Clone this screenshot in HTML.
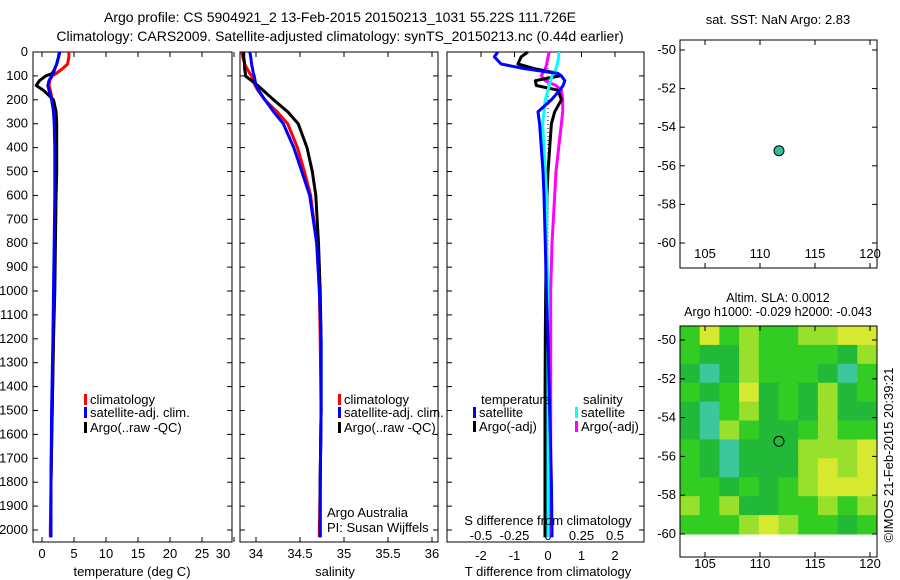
<!DOCTYPE html>
<html><head><meta charset="utf-8">
<style>
html,body{margin:0;padding:0;background:#fff;}
svg{display:block;font-family:"Liberation Sans",sans-serif;}
text{font-size:13px;fill:#000;}
</style></head>
<body>
<svg id="chart" width="900" height="580" viewBox="0 0 900 580" xmlns="http://www.w3.org/2000/svg">
<text x="340" y="22" text-anchor="middle" style="font-size:14px">Argo profile: CS 5904921_2 13-Feb-2015 20150213_1031 55.22S 111.726E</text>
<text x="340" y="41" text-anchor="middle" style="font-size:14px">Climatology: CARS2009. Satellite-adjusted climatology: synTS_20150213.nc (0.44d earlier)</text>
<g id="g"></g>
</svg>
<script>
// ---- data ----
const depths = [0,20,50,70,90,100,120,140,160,200,250,300,400,500,600,800,1000,1200,1500,1800,2000,2030];
const tempClim = [4.2,4.2,4.0,3.2,2.2,1.6,1.2,1.1,1.3,1.6,1.9,2.0,2.1,2.2,2.1,2.0,1.9,1.8,1.6,1.4,1.3,1.3];
const tempSat  = [2.8,2.6,2.3,2.0,1.8,1.5,1.1,0.9,1.1,1.5,1.8,1.9,2.0,2.0,2.0,1.9,1.8,1.7,1.5,1.4,1.4,1.4];
const tempArgo = [2.7,2.6,2.3,2.0,1.6,0.6,-0.4,-0.9,0.2,1.8,2.2,2.3,2.3,2.3,2.2,2.1,2.0,1.8,1.6,1.4,1.4,1.4];
const salClim = [33.84,33.85,33.87,33.9,33.93,33.95,33.97,33.99,34.02,34.1,34.24,34.36,34.47,34.55,34.62,34.69,34.72,34.73,34.74,34.73,34.72,34.72];
const salSat  = [33.93,33.94,33.95,33.96,33.97,33.98,33.99,34.0,34.03,34.1,34.2,34.31,34.43,34.52,34.61,34.69,34.72,34.74,34.74,34.73,34.73,34.73];
const salArgo = [33.86,33.86,33.87,33.87,33.88,33.88,33.95,34.02,34.08,34.2,34.36,34.48,34.58,34.64,34.68,34.71,34.73,34.74,34.74,34.73,34.73,34.73];
const dTsat  = [-1.5,-1.6,-1.4,-0.7,0.3,0.4,0.5,0.45,0.35,0.1,-0.3,-0.25,-0.2,-0.15,-0.12,-0.08,-0.05,0.0,0.05,0.1,0.12,0.12];
const dTargo = [-0.6,-0.8,-0.9,-0.4,0.3,0.35,-0.38,-0.35,0.3,0.4,0.2,0.1,0.05,0.0,-0.03,-0.05,-0.07,-0.08,-0.09,-0.09,-0.09,-0.09];
const dSsat  = [0.08,0.08,0.07,0.06,0.04,0.03,0.02,0.01,0.0,-0.02,-0.03,-0.04,-0.03,-0.02,-0.01,-0.01,0.0,0.0,0.0,0.0,0.0,0.0];
const dSargo = [0.01,0.0,-0.01,-0.02,-0.04,-0.05,-0.02,0.06,0.1,0.11,0.11,0.1,0.08,0.06,0.05,0.03,0.02,0.02,0.02,0.02,0.02,0.02];
const depthTicks = [0,100,200,300,400,500,600,700,800,900,1000,1100,1200,1300,1400,1500,1600,1700,1800,1900,2000];
const tempTicks = [0,5,10,15,20,25,30];
const salTicks = [34,34.5,35,35.5,36];
const salTickLabels = ["34","34.5","35","35.5","36"];
const dTTicks = [-2,-1,0,1,2];
const dSTicks = [-0.5,-0.25,0,0.25,0.5];
const dSTickLabels = ["-0.5","-0.25","0","0.25","0.5"];
const lonTicks = [105,110,115,120];
const latTicks = [-50,-52,-54,-56,-58,-60];
const argoLon = [111.726];
const argoLat = [-55.22];
// SLA map levels (0=teal .. 4=yellow), rows north->south, 10 cols west->east
const slaGrid = [
 [2,4,2,3,2,2,3,3,4,4],
 [2,1,1,3,2,2,2,2,1,3],
 [1,0,1,3,2,2,2,1,0,2],
 [2,1,2,4,1,2,1,3,1,2],
 [1,0,2,3,1,2,1,3,1,1],
 [1,0,3,2,1,1,2,3,2,2],
 [2,1,0,1,1,1,3,3,3,4],
 [2,1,0,1,1,1,3,4,3,4],
 [2,2,1,2,1,2,3,4,4,4],
 [3,2,3,1,1,2,2,3,2,3],
 [2,2,2,3,4,3,2,2,1,2]
];
const slaColors = ["#3cc89a","#22b838","#33cc22","#99e02c","#d6e830"];

// ---- helpers ----
const NS="http://www.w3.org/2000/svg";
const G=document.getElementById('g');
function el(tag,attrs,parent){const e=document.createElementNS(NS,tag);for(const k in attrs)e.setAttribute(k,attrs[k]);(parent||G).appendChild(e);return e;}
function txt(x,y,s,anchor,parent){const t=el('text',{x:x,y:y,'text-anchor':anchor||'start'},parent);t.textContent=s;return t;}
const yD = d => 52 + d*0.239;
const xT = v => 42 + v*6.4;
const xS = v => 256 + (v-34)*88;
const xdT = v => 548 + v*33.5;
const xdS = v => 548 + v*134;
const PB = 542;

function panel(x0,x1,name){
  const r=el('rect',{x:x0,y:52,width:x1-x0,height:PB-52,fill:'none',stroke:'#000','stroke-width':1});
  
  
  depthTicks.forEach(d=>{el('line',{x1:x0,x2:x0+5,y1:yD(d),y2:yD(d),stroke:'#000'});el('line',{x1:x1,x2:x1-5,y1:yD(d),y2:yD(d),stroke:'#000'});});
}
function line(xs,xf,color,w,name,dash){
  const pts=depths.map((d,i)=>xf(xs[i]).toFixed(1)+','+yD(d).toFixed(1)).join(' ');
  const p=el('polyline',{points:pts,fill:'none',stroke:color,'stroke-width':w,'stroke-linejoin':'round'});
  if(dash)p.setAttribute('stroke-dasharray',dash);
  
  
}
function legendItem(x,y,color,label,name){
  const g=el('g',{});
  
  
  el('rect',{x:x,y:y-10,width:3,height:11,fill:color},g);
  txt(x+6,y,label,'start',g);
}

// depth labels
depthTicks.forEach(d=>{const t=txt(28,yD(d)+4,String(d),'end');});

// panel 1 temperature
panel(33,232,'temperature-panel');
tempTicks.forEach(v=>{el('line',{x1:xT(v),x2:xT(v),y1:PB,y2:PB-5,stroke:'#000'});el('line',{x1:xT(v),x2:xT(v),y1:52,y2:57,stroke:'#000'});const t=txt(Math.min(xT(v),223),558,String(v),'middle');});
line(tempClim,xT,'#f00',3,'temp-climatology-line');
line(tempArgo,xT,'#000',3,'temp-argo-line');
line(tempSat,xT,'#00f',3,'temp-satellite-line');
txt(132,576,'temperature (deg C)','middle');
legendItem(84,404,'#f00','climatology','legend-climatology');
legendItem(84,417,'#00f','satellite-adj. clim.','legend-satellite');
legendItem(84,432,'#000','Argo(..raw -QC)','legend-argo');

// panel 2 salinity
panel(240,438,'salinity-panel');
salTicks.forEach((v,i)=>{el('line',{x1:xS(v),x2:xS(v),y1:PB,y2:PB-5,stroke:'#000'});el('line',{x1:xS(v),x2:xS(v),y1:52,y2:57,stroke:'#000'});const t=txt(xS(v),558,salTickLabels[i],'middle');});
line(salClim,xS,'#f00',3,'sal-climatology-line');
line(salArgo,xS,'#000',3,'sal-argo-line');
line(salSat,xS,'#00f',3,'sal-satellite-line');
txt(335,576,'salinity','middle');
legendItem(338,404,'#f00','climatology','legend-climatology-2');
legendItem(338,417,'#00f','satellite-adj. clim.','legend-satellite-2');
legendItem(338,432,'#000','Argo(..raw -QC)','legend-argo-2');
txt(327,517,'Argo Australia');
txt(327,532,'PI: Susan Wijffels');

// panel 3 differences
panel(447,644,'difference-panel');
dTTicks.forEach(v=>{el('line',{x1:xdT(v),x2:xdT(v),y1:52,y2:57,stroke:'#000'});const t=txt(xdT(v),560,String(v),'middle');});
dSTicks.forEach((v,i)=>{const t=txt(xdS(v),540,dSTickLabels[i],'middle');});
el('line',{x1:548,x2:548,y1:52,y2:530,stroke:'#000','stroke-dasharray':'1,3'});
line(dSargo,xdS,'#f0f',3,'dS-argo-line');
line(dTargo,xdT,'#000',3,'dT-argo-line');
line(dSsat,xdS,'#0ff',3,'dS-satellite-line');
line(dTsat,xdT,'#00f',3,'dT-satellite-line');
txt(548,525,'S difference from climatology','middle');
txt(548,576,'T difference from climatology','middle');
txt(481,404,'temperature');
txt(583,404,'salinity');
legendItem(473,417,'#00f','satellite','legend-dT-satellite');
legendItem(473,431,'#000','Argo(-adj)','legend-dT-argo');
legendItem(575,417,'#0ff','satellite','legend-dS-satellite');
legendItem(575,431,'#f0f','Argo(-adj)','legend-dS-argo');

// maps
function mapAxes(top,bottom,latTop,pxLat,name,labelY){
  const xL = v => 705 + (v-105)*11;
  const yL = v => latTop + (-50 - v)*pxLat;
  const r=el('rect',{x:680,y:top,width:197,height:bottom-top,fill:'none',stroke:'#000'});
  
  
  lonTicks.forEach(v=>{el('line',{x1:xL(v),x2:xL(v),y1:bottom,y2:bottom-5,stroke:'#000'});el('line',{x1:xL(v),x2:xL(v),y1:top,y2:top+5,stroke:'#000'});const t=txt(xL(v),labelY,String(v),'middle');});
  latTicks.forEach(v=>{el('line',{x1:680,x2:685,y1:yL(v),y2:yL(v),stroke:'#000'});el('line',{x1:877,x2:872,y1:yL(v),y2:yL(v),stroke:'#000'});const t=txt(676,yL(v)+4,String(v),'end');});
  return {xL,yL};
}
const st=txt(778,24,'sat. SST: NaN Argo: 2.83','middle');

st.setAttribute('style','font-size:13px');
const m1=mapAxes(40,268,50,19.3,'sst-map',258);
argoLon.forEach((lo,i)=>{const c=el('circle',{cx:m1.xL(lo),cy:m1.yL(argoLat[i]),r:5,fill:'#2fc09a',stroke:'#000'});});

const s1=txt(778,302,'Altim. SLA: 0.0012','middle');

s1.setAttribute('style','font-size:12.5px');
const s2=txt(778,316,'Argo h1000: -0.029 h2000: -0.043','middle');

s2.setAttribute('style','font-size:12.5px');
// heatmap
const hx0=680,hx1=877,hy0=326,hy1=534;
const cw=(hx1-hx0)/slaGrid[0].length, ch=(hy1-hy0)/slaGrid.length;
slaGrid.forEach((row,ri)=>row.forEach((v,ci)=>{
  const c=el('rect',{x:hx0+ci*cw,y:hy0+ri*ch,width:cw+0.5,height:ch+0.5,fill:slaColors[v]});
  
  
}));
const m2=mapAxes(326,557,340,19.4,'sla-map',568);
argoLon.forEach((lo,i)=>{const c=el('circle',{cx:m2.xL(lo),cy:m2.yL(argoLat[i]),r:5,fill:'none',stroke:'#000'});});

const cr=txt(0,0,'©IMOS 21-Feb-2015 20:39:21','middle');
cr.setAttribute('transform','translate(893,455) rotate(-90)');


</script>
</body></html>
